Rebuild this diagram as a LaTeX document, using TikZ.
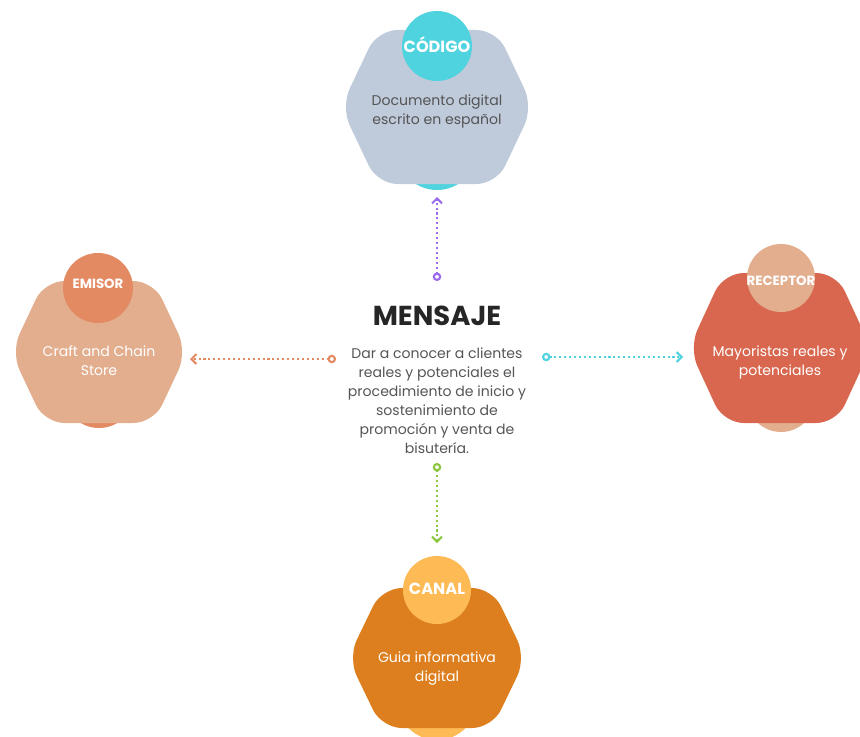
\documentclass[tikz,border=0pt]{standalone}
\usepackage{fontspec}
\setmainfont{Poppins}
\usetikzlibrary{arrows.meta}

\definecolor{cinzaazul}{HTML}{BFCADB}
\definecolor{ciano}{HTML}{4FD3DE}
\definecolor{pessego}{HTML}{E2AE8E}
\definecolor{laranjaclaro}{HTML}{E38A62}
\definecolor{tijolo}{HTML}{D9674F}
\definecolor{laranja}{HTML}{DD7F1E}
\definecolor{amarelo}{HTML}{FDBA55}
\definecolor{roxo}{HTML}{9B6BEB}
\definecolor{verde}{HTML}{8CC63F}
\definecolor{textocinza}{HTML}{555555}

% hexagono arredondado: centro, meia largura, meia altura, cor
\newcommand{\hexagono}[4]{%
  \begin{scope}[shift={(#1)}]
    \fill[#4,rounded corners=0.5cm] (-#2,0) -- (-0.62*#2,-#3) -- (0.62*#2,-#3)
      -- (#2,0) -- (0.62*#2,#3) -- (-0.62*#2,#3) -- cycle;
  \end{scope}}

\begin{document}
\begin{tikzpicture}[x=0.025cm,y=-0.025cm,
  titulo/.style={font=\bfseries\fontsize{11.5}{13}\selectfont,text=white},
  titulop/.style={font=\bfseries\fontsize{9.5}{11}\selectfont,text=white},
  corpo/.style={font=\fontsize{10}{13.5}\selectfont,align=center},
  seta/.style={line width=1.5pt,dotted,{Circle[open,length=6pt,width=6pt]}-{Straight Barb[length=3.5pt,width=7pt]}}]
  \useasboundingbox (0,0) rectangle (860,736);

  %centros
  \coordinate (cod) at (437,107);
  \coordinate (emi) at (99,352);
  \coordinate (rec) at (780,348);
  \coordinate (can) at (437,658);

  %codigo
  \fill[ciano] (437,150) circle (40);
  \hexagono{cod}{96}{77}{cinzaazul}
  \fill[ciano] (437,46) circle (35);
  \node[titulo] (ccod) at (437,45) {CÓDIGO};
  \node[corpo,text=textocinza] (tcod) at (437,111) {Documento digital\\escrito en español};

  %emisor
  \fill[laranjaclaro] (99,392) circle (36);
  \hexagono{emi}{88}{71}{pessego}
  \fill[laranjaclaro] (98,288) circle (35);
  \node[titulop] (cemi) at (98,284) {EMISOR};
  \node[corpo,text=white] (temi) at (99,361) {Craft and Chain\\Store};

  %receptor
  \fill[pessego] (781,398) circle (34);
  \hexagono{rec}{91}{75}{tijolo}
  \fill[pessego] (781,278) circle (34);
  \node[titulop] (crec) at (781,281) {RECEPTOR};
  \node[corpo,text=white] (trec) at (780,362) {Mayoristas reales y\\potenciales};

  %canal
  \fill[amarelo] (437,700) circle (40);
  \hexagono{can}{89}{70}{laranja}
  \fill[amarelo] (437,590) circle (34);
  \node[titulo] (ccan) at (437,589) {CANAL};
  \node[corpo,text=white] (tcan) at (437,669) {Guia informativa\\digital};

  %mensaje
  \node[font=\bfseries\fontsize{19.5}{22}\selectfont,text=black!85] (msg) at (437,316) {MENSAJE};
  \node[corpo,text=textocinza] (tmsg) at (437,401) {Dar a conocer a clientes\\reales y potenciales el\\procedimiento de inicio y\\sostenimiento de\\promoción y venta de\\bisutería.};

  %setas
  \coordinate (a1) at (437,281); \coordinate (b1) at (437,197);
  \coordinate (a2) at (336,359); \coordinate (b2) at (190,359);
  \coordinate (a3) at (542,357); \coordinate (b3) at (683,357);
  \coordinate (a4) at (437,463); \coordinate (b4) at (437,543);
  \draw[seta,roxo] (a1) -- (b1);
  \draw[seta,laranjaclaro] (a2) -- (b2);
  \draw[seta,ciano] (a3) -- (b3);
  \draw[seta,verde] (a4) -- (b4);
\end{tikzpicture}
\end{document}
